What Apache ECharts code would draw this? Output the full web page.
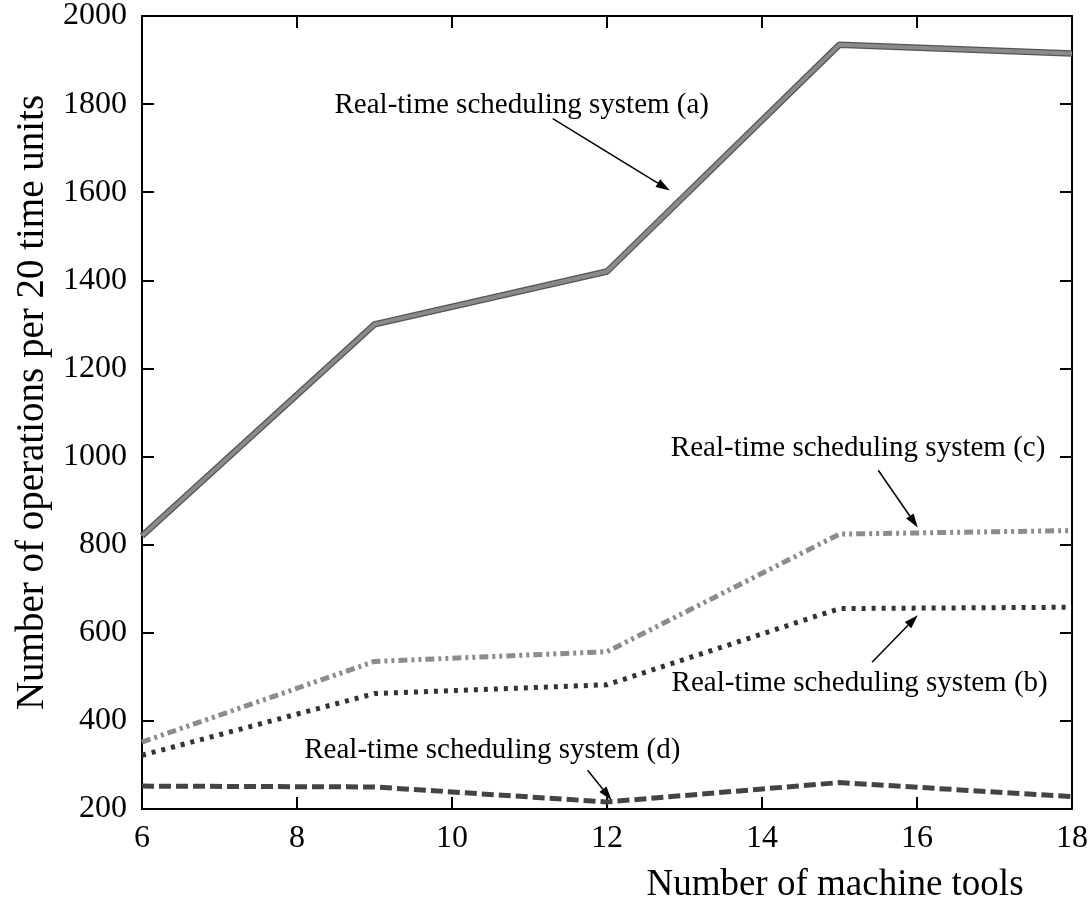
<!DOCTYPE html>
<html>
<head>
<meta charset="utf-8">
<script src="https://cdn.jsdelivr.net/npm/echarts@6/dist/echarts.min.js"></script>
<style>
  html, body { margin: 0; padding: 0; background: #fff; }
  #chart { width: 1092px; height: 916px; }
</style>
</head>
<body>
<div id="chart"></div>
<script>
  // machine tools on the x axis
  var machineTools = [6, 9, 12, 15, 18];
  // operations per 20 time units
  var systemA = [820, 1300, 1420, 1935, 1915];
  var systemB = [322, 462, 482, 655, 658];
  var systemC = [352, 535, 557, 824, 832];
  var systemD = [252, 250, 216, 260, 228];

  // labels: text centre, arrow tail, arrow tip (data coords)
  var notes = [
    { text: 'Real-time scheduling system (a)', at: [10.9, 1796], from: [11.3, 1767], to: [12.81, 1604] },
    { text: 'Real-time scheduling system (c)', at: [15.24, 1019], from: [15.5, 969], to: [16.01, 839] },
    { text: 'Real-time scheduling system (b)', at: [15.26, 486], from: [15.42, 533], to: [16.01, 640] },
    { text: 'Real-time scheduling system (d)', at: [10.52, 334], from: [11.75, 288], to: [12.06, 220] }
  ];

  function pairs(ys) {
    return machineTools.map(function (x, i) { return [x, ys[i]]; });
  }

  var font = '"Liberation Serif", "Times New Roman", serif';
  var chart = echarts.init(document.getElementById('chart'));

  var frameAxis = {
    axisLine: { show: true, lineStyle: { color: '#000', width: 2 } },
    axisTick: { show: true, inside: true, length: 12, lineStyle: { color: '#000', width: 2 } },
    splitLine: { show: false }
  };

  function plain(v) { return String(v); }

  chart.setOption({
    animation: false,
    backgroundColor: '#fff',
    grid: { left: 142, right: 20, top: 15, bottom: 107 },
    xAxis: [
      Object.assign({
        type: 'value', min: 6, max: 18, interval: 2, position: 'bottom',
        name: 'Number of machine tools', nameLocation: 'middle', nameGap: 58,
        nameTextStyle: { fontFamily: font, fontSize: 37, color: '#000', padding: [0, 0, 0, 456] },
        axisLabel: { fontFamily: font, fontSize: 32, color: '#000', margin: 14, formatter: plain }
      }, frameAxis),
      Object.assign({
        type: 'value', min: 6, max: 18, interval: 2, position: 'top',
        axisLabel: { show: false }
      }, frameAxis)
    ],
    yAxis: [
      Object.assign({
        type: 'value', min: 200, max: 2000, interval: 200, position: 'left',
        name: 'Number of operations per 20 time units', nameLocation: 'middle', nameGap: 86,
        nameTextStyle: { fontFamily: font, fontSize: 39, color: '#000', padding: [0, 0, 0, 20] },
        axisLabel: { fontFamily: font, fontSize: 32, color: '#000', margin: 15, formatter: plain }
      }, frameAxis),
      Object.assign({
        type: 'value', min: 200, max: 2000, interval: 200, position: 'right',
        axisLabel: { show: false }
      }, frameAxis)
    ],
    series: [
      { type: 'line', data: pairs(systemA), symbol: 'none', z: 3,
        lineStyle: { color: '#555', width: 6.5 } },
      { type: 'line', data: pairs(systemA), symbol: 'none', z: 4,
        lineStyle: { color: '#8a8a8a', width: 4 } },
      { type: 'line', data: pairs(systemC), symbol: 'none',
        lineStyle: { color: '#8c8c8c', width: 5, type: [9, 4, 3, 4, 3, 4], cap: 'butt' } },
      { type: 'line', data: pairs(systemB), symbol: 'none',
        lineStyle: { color: '#333', width: 5, type: [4, 6], cap: 'butt' } },
      { type: 'line', data: pairs(systemD), symbol: 'none',
        lineStyle: { color: '#444', width: 5, type: [12, 5], cap: 'butt' } }
    ]
  });

  // annotation texts and arrows
  var elements = [];
  notes.forEach(function (n) {
    var c = chart.convertToPixel({ gridIndex: 0 }, n.at);
    var p0 = chart.convertToPixel({ gridIndex: 0 }, n.from);
    var p1 = chart.convertToPixel({ gridIndex: 0 }, n.to);
    elements.push({
      type: 'text', x: c[0], y: c[1],
      style: { text: n.text, font: '29px ' + font, fill: '#000', align: 'center', verticalAlign: 'middle' }
    });
    var dx = p1[0] - p0[0], dy = p1[1] - p0[1];
    var len = Math.sqrt(dx * dx + dy * dy);
    var ux = dx / len, uy = dy / len;
    var hl = 14, hw = 4.5;
    var bx = p1[0] - ux * hl, by = p1[1] - uy * hl;
    elements.push({
      type: 'line',
      shape: { x1: p0[0], y1: p0[1], x2: bx, y2: by },
      style: { stroke: '#000', lineWidth: 1.5 }
    });
    elements.push({
      type: 'polygon',
      shape: { points: [[p1[0], p1[1]], [bx - uy * hw, by + ux * hw], [bx + uy * hw, by - ux * hw]] },
      style: { fill: '#000' }
    });
  });
  chart.setOption({ graphic: elements });
</script>
</body>
</html>
